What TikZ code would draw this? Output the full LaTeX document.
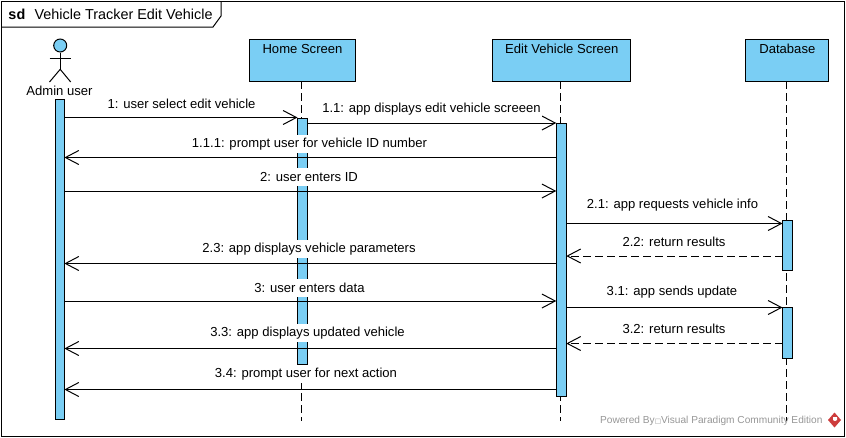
\documentclass[tikz,border=0pt]{standalone}
\usepackage{fontspec}
\setmainfont{Liberation Sans}
\newfontfamily\symfont{DejaVu Sans}
\usepackage{xcolor}
\usetikzlibrary{arrows.meta, positioning}
\definecolor{barblue}{RGB}{122,206,244}
\definecolor{markgray}{RGB}{150,150,150}
\definecolor{markred}{RGB}{205,60,60}

\begin{document}
\begin{tikzpicture}[x=0.75pt, y=-0.75pt, line width=0.75pt, font=\fontsize{9.8pt}{11pt}\selectfont,
        box/.style={draw, rectangle, fill=barblue, inner sep=0pt, outer sep=0pt, minimum height=31.5pt, text height=10.25pt, text depth=21.25pt},
        bar/.style={draw, rectangle, fill=barblue, inner sep=0pt, outer sep=0pt, minimum width=7.5pt, anchor=north},
        life/.style={dash pattern=on 6pt off 3pt},
        call/.style={-{Straight Barb[length=10pt, width=10.5pt]}},
        reply/.style={-{Straight Barb[length=10pt, width=10.5pt]}, dash pattern=on 6pt off 3pt},
        msg/.style={fill=white, inner xsep=1pt, inner ysep=0pt, minimum height=13.5pt}
    ]
        \useasboundingbox (0,0) rectangle (846,437);

        % Frame
        \draw (1,1) rectangle (844,436);
        \node[anchor=west, inner sep=0pt, font=\fontsize{10.8pt}{12pt}\selectfont] (title) at (8,14.5) {\textbf{sd}\hspace{7pt}Vehicle Tracker Edit Vehicle};
        \draw (1,27) -- (213,27) -- (221,16) -- (221,1);

        % Lifelines
        \node[box, minimum width=79.5pt, anchor=north west] (home) at (249.5,39.5) {Home Screen};
        \node[box, minimum width=103.5pt, right=103pt of home] (edit) {Edit Vehicle Screen};
        \node[box, minimum width=62.25pt, right=86.25pt of edit] (db) {Database};
        \coordinate (lifeEnd) at (0,421);
        \draw[life] (301.5,81) coordinate (homeTop) -- (homeTop |- lifeEnd);
        \draw[life] (560.5,81) coordinate (editTop) -- (editTop |- lifeEnd);
        \draw[life] (786.5,81) coordinate (dbTop) -- (dbTop |- lifeEnd);

        % Actor
        \node[draw, circle, fill=barblue, inner sep=0pt, minimum size=9.75pt] (adminHead) at (60.2,45.5) {};
        \coordinate (adminHip) at (60.2,69.3);
        \draw (adminHead) -- (adminHip);
        \draw (49.5,58.3) -- (70.7,58.3);
        \draw (49.5,82) -- (adminHip) -- (70.7,82);
        \node (adminLabel) at (59.5,91) {Admin user};

        % Activations
        \node[bar, minimum width=7pt, minimum height=240pt] (adminBar) at (59.7,99) {};
        \node[bar, minimum height=184.5pt] (homeBar) at (302.5,118) {};
        \node[bar, minimum height=204.75pt] (editBar) at (561.3,123) {};
        \node[bar, minimum height=37.5pt] (dbBarA) at (787.5,220.5) {};
        \node[bar, minimum height=38.25pt] (dbBarB) at (787.5,307.5) {};

        % Rows
        \coordinate (m1) at (0,117.5);
        \coordinate (m11) at (0,123);
        \coordinate (m111) at (0,157.5);
        \coordinate (m2) at (0,191);
        \coordinate (m21) at (0,223.5);
        \coordinate (m22) at (0,256);
        \coordinate (m23) at (0,263.5);
        \coordinate (m3) at (0,301);
        \coordinate (m31) at (0,307.5);
        \coordinate (m32) at (0,343.5);
        \coordinate (m33) at (0,348.5);
        \coordinate (m34) at (0,389.5);

        % Messages
        \draw[call] (adminBar.east |- m1) -- (homeBar.west |- m1);
        \draw[call] (homeBar.east |- m11) -- (editBar.west |- m11);
        \draw[call] (editBar.west |- m111) -- (adminBar.east |- m111);
        \draw[call] (adminBar.east |- m2) -- (editBar.west |- m2);
        \draw[call] (editBar.east |- m21) -- (dbBarA.west |- m21);
        \draw[reply] (dbBarA.west |- m22) -- (editBar.east |- m22);
        \draw[call] (editBar.west |- m23) -- (adminBar.east |- m23);
        \draw[call] (adminBar.east |- m3) -- (editBar.west |- m3);
        \draw[call] (editBar.east |- m31) -- (dbBarB.west |- m31);
        \draw[reply] (dbBarB.west |- m32) -- (editBar.east |- m32);
        \draw[call] (editBar.west |- m33) -- (adminBar.east |- m33);
        \draw[call] (editBar.west |- m34) -- (adminBar.east |- m34);

        % Labels
        \node[msg] (l1) at (181.5,103.5) {1: user select edit vehicle};
        \node[msg] (l11) at (431.5,109) {1.1: app displays edit vehicle screeen};
        \node[msg] (l111) at (309.5,144) {1.1.1: prompt user for vehicle ID number};
        \node[msg] (l2) at (309,176.5) {2: user enters ID};
        \node[msg] (l21) at (672.5,205.5) {2.1: app requests vehicle info};
        \node[msg] (l22) at (674,241.5) {2.2: return results};
        \node[msg] (l23) at (309,249) {2.3: app displays vehicle parameters};
        \node[msg] (l3) at (309.5,287.5) {3: user enters data};
        \node[msg] (l31) at (672,292.5) {3.1: app sends update};
        \node[msg] (l32) at (674,328.5) {3.2: return results};
        \node[msg] (l33) at (307.5,333) {3.3: app displays updated vehicle};
        \node[msg] (l34) at (306,374) {3.4: prompt user for next action};

        % Watermark
        \node[anchor=east, inner sep=0pt, text=markgray, font=\fontsize{7.6pt}{10pt}\selectfont] (mark) at (823,420.5) {Powered By{\symfont\fontsize{5pt}{6pt}\selectfont □}Visual Paradigm Community Edition};
        \fill[markred] (834.5,412.5) -- (841,420) -- (834.5,427.5) -- (828,420) -- cycle;
        \fill[white] (833,417) -- (837,417) -- (837,420) -- (835,421) -- (833,420) -- cycle;
    \end{tikzpicture}
\end{document}
